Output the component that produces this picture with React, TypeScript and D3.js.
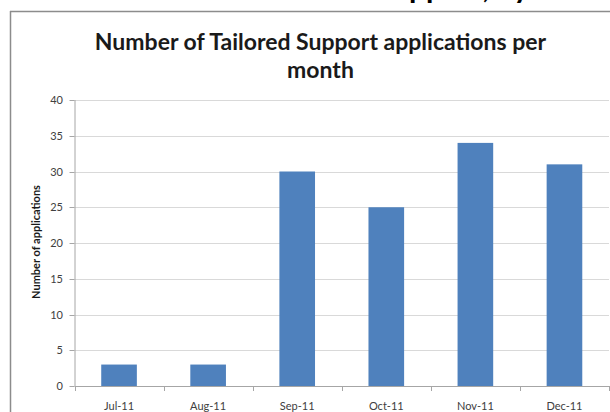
import React from "react";
import * as d3 from "d3";

const categories = ["Jul-11", "Aug-11", "Sep-11", "Oct-11", "Nov-11", "Dec-11"];
const values = [3, 3, 30, 25, 34, 31];
const yTicks = [0, 5, 10, 15, 20, 25, 30, 35, 40];
const titleLines = ["Number of Tailored Support applications per", "month"];
const yAxisTitle = "Number of applications";
const pageHeading = "Tailored Support, by month";

const W = 610;
const H = 412;
const plot = { left: 74.5, right: 609, top: 100, bottom: 386 };

export default function App() {
  const x = d3.scaleBand<string>().domain(categories).range([plot.left, plot.right]).paddingInner(0.6).paddingOuter(0.3);
  const xb = d3.scaleBand<string>().domain(categories).range([plot.left, plot.right]);
  const y = d3.scaleLinear().domain([0, 40]).range([plot.bottom, plot.top]);
  const font = "Lato, 'Open Sans', sans-serif";
  const boundaries = categories.map((c) => xb(c) as number).concat([plot.right]);
  return (
    <svg width={W} height={H} style={{ position: "fixed", left: 0, top: 0, background: "#fff" }}>
      <rect x={0} y={0} width={W} height={H} fill="#fff" />
      <text x={623} y={-2} textAnchor="end" fontFamily={font} fontWeight="bold" fontSize={30} fill="#000">
        {pageHeading}
      </text>
      <line x1={10} y1={11.5} x2={W} y2={11.5} stroke="#8c8c8c" strokeWidth={1.5} />
      <line x1={10.5} y1={11} x2={10.5} y2={H} stroke="#8c8c8c" strokeWidth={1.5} />
      {titleLines.map((t, i) => (
        <text key={i} x={320.5} y={50 + i * 28} textAnchor="middle" fontFamily={font} fontWeight="bold" fontSize={23} fill="#1a1a1a">
          {t}
        </text>
      ))}
      {yTicks.map((t) => (
        <g key={t}>
          {t > 0 && <line x1={plot.left} x2={plot.right} y1={Math.round(y(t)) + 0.5} y2={Math.round(y(t)) + 0.5} stroke="#d9d9d9" strokeWidth={1.2} />}
          <line x1={plot.left - 5} x2={plot.left} y1={Math.round(y(t)) + 0.5} y2={Math.round(y(t)) + 0.5} stroke="#a6a6a6" />
          <text x={63} y={y(t) + 4} textAnchor="end" fontFamily={font} fontSize={11} fill="#404040">
            {t}
          </text>
        </g>
      ))}
      {categories.map((c, i) => (
        <rect key={c} x={x(c)} y={y(values[i])} width={x.bandwidth()} height={y(0) - y(values[i])} fill="#4f81bd" />
      ))}
      <line x1={plot.left + 0.5} x2={plot.left + 0.5} y1={plot.top} y2={plot.bottom} stroke="#a6a6a6" />
      <line x1={plot.left} x2={plot.right} y1={plot.bottom + 0.5} y2={plot.bottom + 0.5} stroke="#a6a6a6" />
      {boundaries.map((b, i) => (
        <line key={i} x1={Math.round(b) + 0.5} x2={Math.round(b) + 0.5} y1={plot.bottom} y2={plot.bottom + 5} stroke="#a6a6a6" />
      ))}
      {categories.map((c) => (
        <text key={c} x={(xb(c) as number) + xb.bandwidth() / 2} y={410} textAnchor="middle" fontFamily={font} fontSize={11} fill="#404040">
          {c}
        </text>
      ))}
      <text transform={`translate(40,242) rotate(-90)`} textAnchor="middle" fontFamily={font} fontWeight="bold" fontSize={11} fill="#1a1a1a">
        {yAxisTitle}
      </text>
    </svg>
  );
}
